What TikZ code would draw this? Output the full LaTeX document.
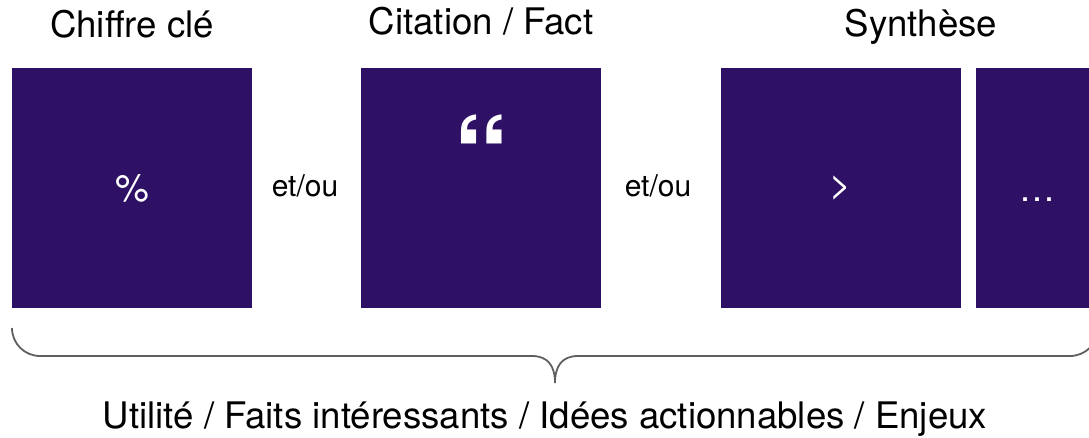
\documentclass[tikz,border=0pt]{standalone}
\usepackage{fontspec}
\setmainfont{TeX Gyre Heros}
\usetikzlibrary{positioning}
\definecolor{deeppurple}{RGB}{46,16,100}
\definecolor{bracegray}{RGB}{95,95,95}

\begin{document}
\begin{tikzpicture}[x=1pt, y=-1pt,
        card/.style={fill=deeppurple, text=white, inner sep=0pt,
                     minimum width=240pt, minimum height=240pt,
                     font=\fontsize{38}{44}\selectfont},
        heading/.style={anchor=base, font=\fontsize{36.6}{43}\selectfont},
        joiner/.style={anchor=base, font=\fontsize{30}{36}\selectfont}]
        \clip (0, 0) rectangle (1089, 438);

        % the four cards
        \node[card] (key)   at (132, 188) {\%};
        \node[card] (quote) at (481, 188) {};
        \node[card] (synth) at (841, 188) {>};
        \node[card, minimum width=113pt] (more) at (1032.5, 188) {};

        \node[anchor=north, inner sep=0pt, text=white,
              font=\fontsize{112}{112}\selectfont\bfseries] (quotemark) at (481, 115) {“};
        \node[anchor=south, inner sep=0pt, text=white,
              font=\fontsize{36}{40}\selectfont] (dots) at (1037, 202) {…};

        \node[heading] (keytitle)   at (132, 38) {Chiffre clé};
        \node[heading] (quotetitle) at (481, 35) {Citation / Fact};
        \node[heading] (synthtitle) at (921, 37) {Synthèse};

        \node[joiner] (or1) at (305, 197) {et/ou};
        \node[joiner] (or2) at (658, 197) {et/ou};

        % brace under the cards
        \coordinate (bl)  at (12,  328);
        \coordinate (tip) at (555, 383);
        \coordinate (br)  at (1098, 328);
        \draw[bracegray, line width=1.8pt]
            (bl) .. controls (12, 343.5) and (24.5, 356) .. (40, 356)
                 -- (532, 356)
                 .. controls (548, 356) and (555, 366) .. (tip)
                 .. controls (555, 366) and (562, 356) .. (578, 356)
                 -- (1070, 356)
                 .. controls (1085.5, 356) and (1098, 343.5) .. (br);

        \node[heading] (summary) at (545, 428)
            {Utilité / Faits intéressants / Idées actionnables / Enjeux};
\end{tikzpicture}
\end{document}
